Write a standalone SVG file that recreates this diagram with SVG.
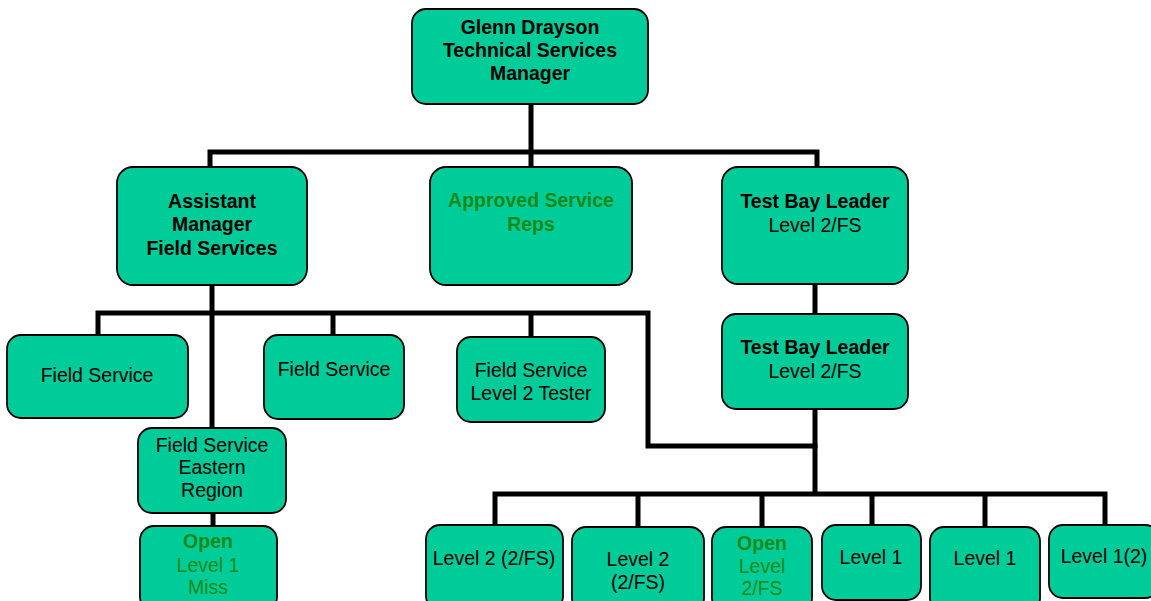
<svg xmlns="http://www.w3.org/2000/svg" width="1151" height="601" viewBox="0 0 1151 601">
<style>
.box{fill:#00CC99;stroke:#000;stroke-width:1.8}
.t{font-family:"Liberation Sans",Arial,sans-serif;font-size:19.5px;text-anchor:middle;fill:#000}
.b{font-weight:bold}
.g{fill:#178a17}
.c{fill:none;stroke:#000;stroke-width:5;stroke-linecap:square;stroke-linejoin:miter}
</style>
<rect width="1151" height="601" fill="#fff"/>
<g id="connectors">
<path class="c" d="M531 104V152M210 152H817M210 152V167M531 152V167M817 152V167"/>
<path class="c" d="M815 284V314M815 409V494M495 494H1105M495 494V525M638 494V527M762 494V527M872 494V525M985 494V527M1105 494V525"/>
<path class="c" d="M212 285V428M98 313H648V446H815M98 313V335M333 313V335M531 313V337M213 513V526"/>
</g>
<g id="n-manager"><rect class="box" x="412" y="9" width="236" height="95" rx="14"/>
<text class="t b" x="530" y="34">Glenn Drayson</text><text class="t b" x="530" y="57">Technical Services</text><text class="t b" x="530" y="80">Manager</text></g>
<g id="n-assistant"><rect class="box" x="117" y="167" width="190" height="118" rx="16"/>
<text class="t b" x="212" y="208">Assistant</text><text class="t b" x="212" y="231">Manager</text><text class="t b" x="212" y="255">Field Services</text></g>
<g id="n-approved"><rect class="box" x="430" y="167" width="202" height="118" rx="16"/>
<text class="t b g" x="531" y="207">Approved Service</text><text class="t b g" x="531" y="231">Reps</text></g>
<g id="n-tbl1"><rect class="box" x="722" y="167" width="186" height="117" rx="16"/>
<text class="t b" x="815" y="208">Test Bay Leader</text><text class="t" x="815" y="232">Level 2/FS</text></g>
<g id="n-tbl2"><rect class="box" x="722" y="314" width="186" height="95" rx="14"/>
<text class="t b" x="815" y="354">Test Bay Leader</text><text class="t" x="815" y="378">Level 2/FS</text></g>
<g id="n-fs1"><rect class="box" x="7" y="335" width="181" height="83" rx="14"/>
<text class="t" x="97" y="382">Field Service</text></g>
<g id="n-fs2"><rect class="box" x="264" y="335" width="140" height="84" rx="14"/>
<text class="t" x="334" y="376">Field Service</text></g>
<g id="n-fs3"><rect class="box" x="457" y="337" width="148" height="85" rx="14"/>
<text class="t" x="531" y="377">Field Service</text><text class="t" x="531" y="400">Level 2 Tester</text></g>
<g id="n-eastern"><rect class="box" x="138" y="428" width="148" height="85" rx="14"/>
<text class="t" x="212" y="452">Field Service</text><text class="t" x="212" y="474">Eastern</text><text class="t" x="212" y="497">Region</text></g>
<g id="n-open1"><rect class="box" x="140" y="526" width="137" height="85" rx="14"/>
<text class="t b g" x="208" y="548">Open</text><text class="t g" x="208" y="572">Level 1</text><text class="t g" x="208" y="594">Miss</text></g>
<g id="n-b1"><rect class="box" x="426" y="525" width="137" height="85" rx="14"/>
<text class="t" x="494" y="565">Level 2 (2/FS)</text></g>
<g id="n-b2"><rect class="box" x="572" y="527" width="132" height="85" rx="14"/>
<text class="t" x="638" y="566">Level 2</text><text class="t" x="638" y="589">(2/FS)</text></g>
<g id="n-b3"><rect class="box" x="712" y="527" width="100" height="85" rx="14"/>
<text class="t b g" x="762" y="550">Open</text><text class="t g" x="762" y="573">Level</text><text class="t g" x="762" y="595">2/FS</text></g>
<g id="n-b4"><rect class="box" x="822" y="525" width="99" height="75" rx="14"/>
<text class="t" x="871" y="564">Level 1</text></g>
<g id="n-b5"><rect class="box" x="930" y="527" width="110" height="85" rx="14"/>
<text class="t" x="985" y="565">Level 1</text></g>
<g id="n-b6"><rect class="box" x="1049" y="525" width="110" height="73" rx="14"/>
<text class="t" x="1104" y="563">Level 1(2)</text></g>
</svg>
